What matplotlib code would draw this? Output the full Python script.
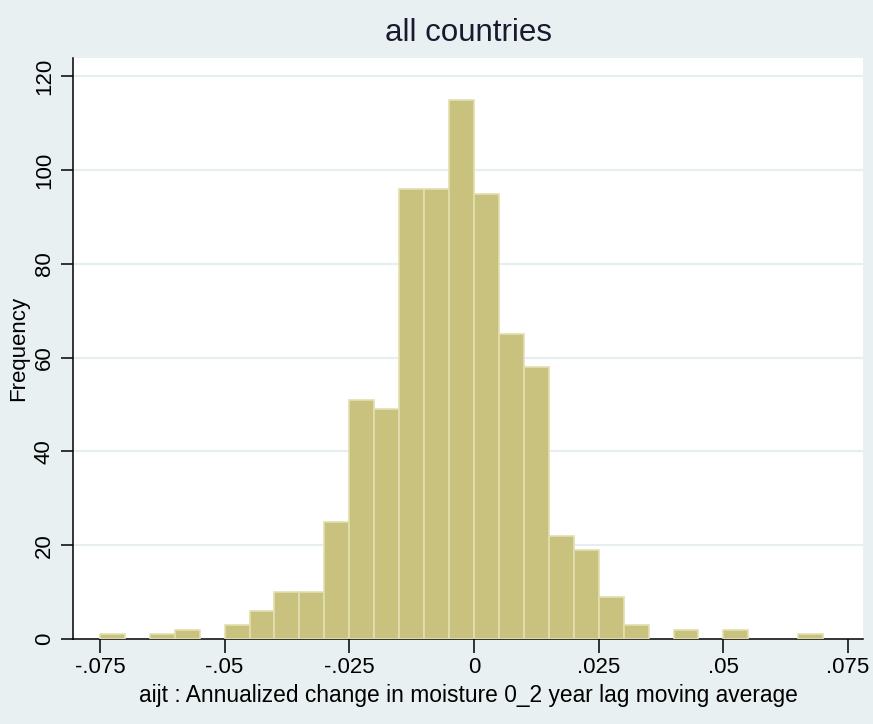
import matplotlib.pyplot as plt
import numpy as np

# histogram of aijt, bins of width .005 starting at -.075
bin_start = -0.075
bin_width = 0.005
counts = [1, 0, 1, 2, 0, 3, 6, 10, 10, 25, 51, 49, 96, 96, 115, 95, 65, 58,
          22, 19, 9, 3, 0, 2, 0, 2, 0, 0, 1]

xticks = [-0.075, -0.05, -0.025, 0, 0.025, 0.05, 0.075]
xtick_labels = ['-.075', '-.05', '-.025', '0', '.025', '.05', '.075']
yticks = [0, 20, 40, 60, 80, 100, 120]

plt.rcParams['font.family'] = ['Liberation Sans', 'DejaVu Sans']

bg = '#e9f0f2'
fig = plt.figure(figsize=(8.73, 7.24), dpi=100, facecolor=bg)
ax = fig.add_axes([0.0836, 0.1174, 0.905, 0.8025])
ax.set_facecolor('white')

counts = np.array(counts)
lefts = bin_start + bin_width * np.arange(len(counts))
keep = counts > 0
ax.bar(lefts[keep], counts[keep], width=bin_width, align='edge', color='#c9c27f',
       edgecolor='#e2dfb0', linewidth=1.2, zorder=3)

# light horizontal grid (stata s2color)
for t in yticks[1:]:
    ax.axhline(t, color='#e6eef1', linewidth=1.6, zorder=1)

ax.set_xlim(-0.0804, 0.078)
ax.set_ylim(0, 123.9)

ax.set_xticks(xticks)
ax.set_xticklabels(xtick_labels, fontsize=16)
ax.set_yticks(yticks)
ax.set_yticklabels([str(t) for t in yticks], fontsize=16, rotation=90, va='center')
ax.tick_params(axis='x', direction='out', length=10, width=1.1, pad=3)
ax.tick_params(axis='y', direction='out', length=9, width=1.1, pad=4)

for s in ['top', 'right']:
    ax.spines[s].set_visible(False)
for s in ['left', 'bottom']:
    ax.spines[s].set_linewidth(1.1)

fig.text(0.5367, 0.9544, 'all countries', fontsize=22.5, ha='center', va='center',
         color='#1a1a2e')
ax.set_xlabel('aijt : Annualized change in moisture 0_2 year lag moving average', fontsize=16.4)
ax.xaxis.label.set_va('center')
ax.xaxis.set_label_coords(0.5, -0.098)
ax.set_ylabel('Frequency', fontsize=16)
ax.yaxis.label.set_va('center')
ax.yaxis.set_label_coords(-0.0684, 0.5)

fig.savefig('out.png', dpi=100, facecolor=bg)
